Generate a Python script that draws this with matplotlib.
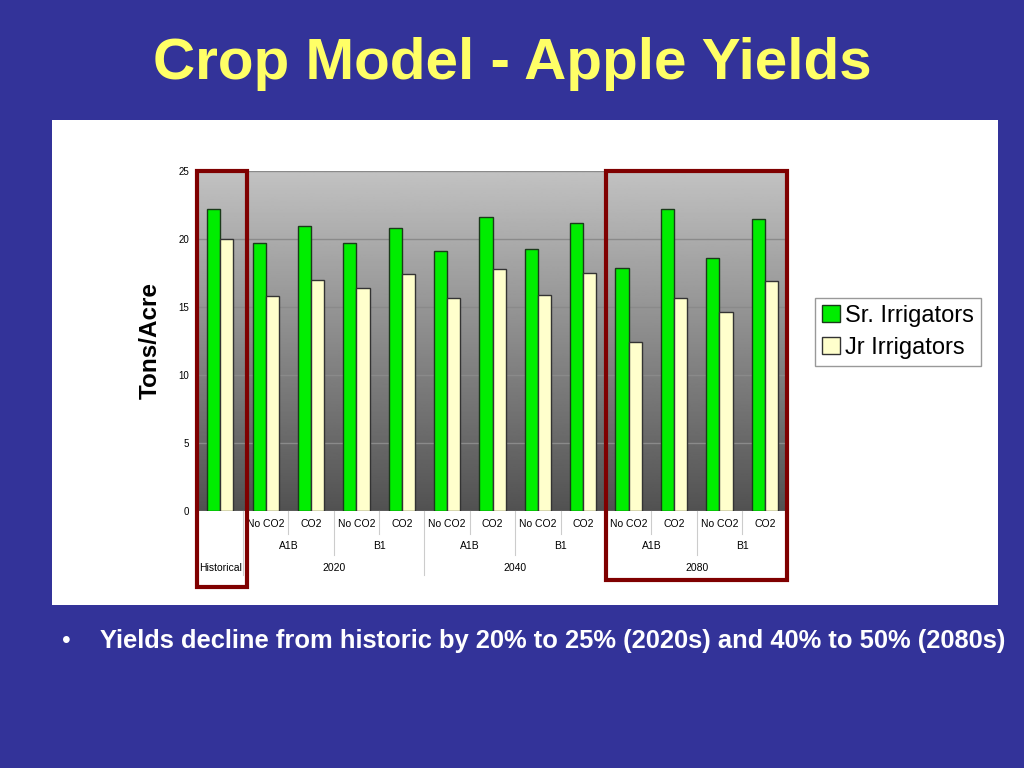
import matplotlib
matplotlib.use('Agg')
import matplotlib.pyplot as plt
import numpy as np
from matplotlib.patches import Rectangle
import matplotlib.transforms as mtransforms

plt.rcParams['font.family'] = ['Liberation Sans', 'DejaVu Sans']

# data
co2_labels = ['', 'No CO2', 'CO2', 'No CO2', 'CO2', 'No CO2', 'CO2',
              'No CO2', 'CO2', 'No CO2', 'CO2', 'No CO2', 'CO2']
scenarios = ['A1B', 'B1', 'A1B', 'B1', 'A1B', 'B1']
periods = ['Historical', '2020', '2040', '2080']
sr_irrigators = [22.2, 19.7, 21.0, 19.7, 20.8, 19.1, 21.6, 19.3, 21.2, 17.9, 22.2, 18.6, 21.5]
jr_irrigators = [20.0, 15.8, 17.0, 16.4, 17.4, 15.7, 17.8, 15.9, 17.5, 12.4, 15.7, 14.6, 16.9]

bg = '#333399'
fig = plt.figure(figsize=(10.24, 7.68), dpi=100, facecolor=bg)

# white chart panel
panel = fig.add_axes([0.0508, 0.212, 0.924, 0.632], zorder=0)
panel.set_facecolor('white')
panel.set_xticks([])
panel.set_yticks([])
for s in panel.spines.values():
    s.set_visible(False)

fig.text(0.5, 0.917, 'Crop Model - Apple Yields', ha='center', va='center',
         color='#ffff66', fontsize=42, fontweight='bold')
fig.text(0.061, 0.166, '\u2022', ha='left', va='center', color='white', fontsize=18)
fig.text(0.098, 0.166, 'Yields decline from historic by 20% to 25% (2020s) and 40% to 50% (2080s)',
         ha='left', va='center', color='white', fontsize=18.4, fontweight='bold')

ax = fig.add_axes([0.193, 0.335, 0.576, 0.442], zorder=1)
ax.set_facecolor('none')

n = len(sr_irrigators)
x = np.arange(n)
w = 0.29

# gradient background of plot area
grad = np.linspace(0.32, 0.76, 256).reshape(-1, 1)
ax.imshow(grad, cmap='gray', vmin=0, vmax=1, aspect='auto', origin='lower',
          extent=(-0.5, n - 0.5, 0, 25), zorder=0)

ax.bar(x - w / 2, sr_irrigators, w, color='#00ee00', edgecolor='#1a3a1a', linewidth=1,
       label='Sr. Irrigators', zorder=3)
ax.bar(x + w / 2, jr_irrigators, w, color='#ffffcc', edgecolor='#333333', linewidth=1,
       label='Jr Irrigators', zorder=3)

ax.set_xlim(-0.5, n - 0.5)
ax.set_ylim(0, 25)
ax.set_yticks([0, 5, 10, 15, 20, 25])
ax.tick_params(axis='y', labelsize=7, length=0, pad=6)
ax.set_xticks([])
ax.yaxis.grid(True, color='#8a8a8a', linewidth=1, zorder=1)
ax.set_axisbelow(True)
for s in ax.spines.values():
    s.set_visible(False)

ax.set_ylabel('Tons/Acre', fontsize=17.5, fontweight='bold', labelpad=12)

# multi-level category labels
trans = mtransforms.blended_transform_factory(ax.transData, ax.transAxes)
for i, lab in enumerate(co2_labels):
    ax.text(i, -0.04, lab, transform=trans, ha='center', va='center', fontsize=7.5)
for j, lab in enumerate(scenarios):
    ax.text(1.5 + 2 * j, -0.105, lab, transform=trans, ha='center', va='center', fontsize=7.5)
ax.text(0, -0.168, periods[0], transform=trans, ha='center', va='center', fontsize=7.5)
for k, lab in enumerate(periods[1:]):
    ax.text(2.5 + 4 * k, -0.168, lab, transform=trans, ha='center', va='center', fontsize=7.5)

sep = '#cccccc'
for i in range(1, n - 1, 2):
    ax.plot([i + 0.5, i + 0.5], [0, -0.07], transform=trans, color=sep, lw=0.8, clip_on=False)
for i in range(2, n - 1, 4):
    ax.plot([i + 0.5, i + 0.5], [0, -0.13], transform=trans, color=sep, lw=0.8, clip_on=False)
for i in range(0, n - 1, 4):
    ax.plot([i + 0.5, i + 0.5], [0, -0.19], transform=trans, color=sep, lw=0.8, clip_on=False)

# highlight boxes
ax.add_patch(Rectangle((-0.52, -0.226), 1.1, 1.226, transform=trans, fill=False,
                       edgecolor='#7f0000', linewidth=3, clip_on=False, zorder=5))
ax.add_patch(Rectangle((8.5, -0.203), 3.98, 1.203, transform=trans, fill=False,
                       edgecolor='#7f0000', linewidth=3, clip_on=False, zorder=5))

leg = fig.legend(loc='upper left', bbox_to_anchor=(0.796, 0.612), fontsize=17,
                 frameon=True, fancybox=False, edgecolor='#999999', framealpha=1,
                 handlelength=0.75, handleheight=0.75, handletextpad=0.2,
                 borderpad=0.3, labelspacing=0.4, borderaxespad=0)
leg.set_zorder(10)

fig.savefig('out.png', dpi=100, facecolor=bg)
